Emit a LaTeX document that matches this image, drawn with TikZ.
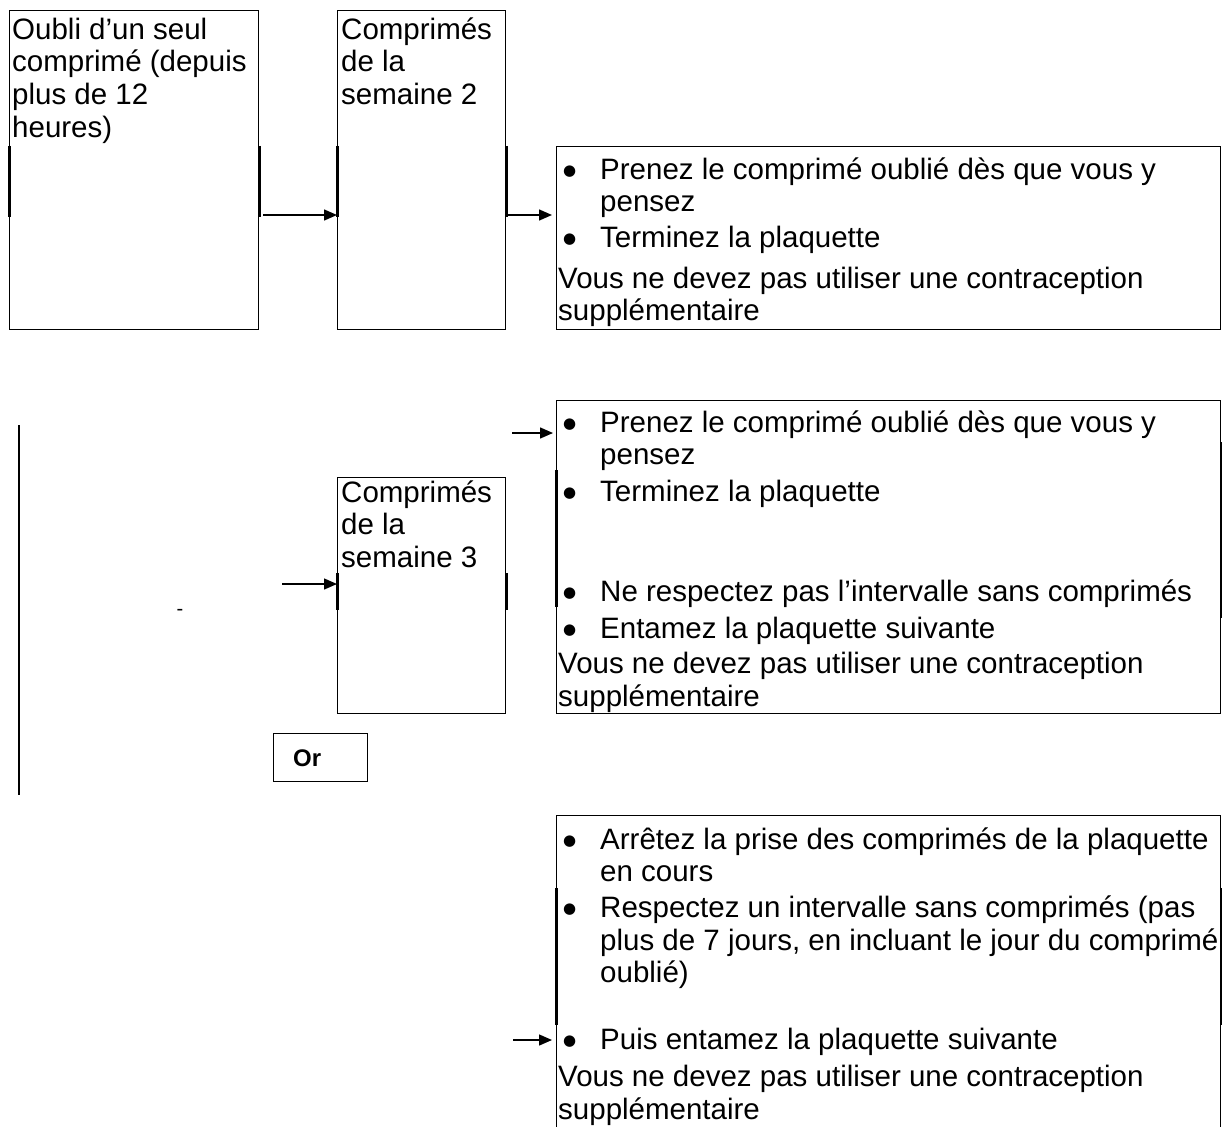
\documentclass[tikz,border=0pt]{standalone}
\usepackage{fontspec}
\setmainfont{Liberation Sans}
\newfontfamily\symbfont{DejaVu Sans}
\usetikzlibrary{calc,arrows.meta}
\newlength{\retrait}\setlength{\retrait}{42pt}
\newcommand{\puce}{\makebox[\retrait][l]{\hspace{5pt}\raisebox{4pt}{\symbfont\fontsize{15}{15}\selectfont ●}}}
\newcommand{\suite}{\hspace*{\retrait}}
\tikzset{
	cadre/.style={draw, line width=1.4pt, anchor=north west, inner sep=0pt},
	texte/.style={anchor=north west, inner sep=0pt, align=left, font=\fontsize{29.5}{32.7}\selectfont},
	fleche/.style={line width=1.4pt, -{Triangle[length=13pt,width=11pt]}},
	epais/.style={line width=3pt},
}
\begin{document}
\begin{tikzpicture}[x=1pt, y=-1pt]
			%%%%% START %%%%%
			\useasboundingbox (0,0) rectangle (1222,1126);
			\clip (0,0) rectangle (1222,1126);
			
			\node[cadre, minimum width=249pt, minimum height=319pt] (boxA) at (9,10) {};
			\node[texte] (txtA) at (12,16) {\strut Oubli d’un seul\\comprimé (depuis\\plus de 12\\heures)};
			
			\node[cadre, minimum width=168pt, minimum height=319pt] (boxB) at (337,10) {};
			\node[texte] (txtB) at (341,16) {\strut Comprimés\\de la\\semaine 2};
			
			\node[cadre, minimum width=664pt, minimum height=183pt] (boxC) at (556,146) {};
			\node[texte] (txtC) at (558,156) {\strut\puce Prenez le comprimé oublié dès que vous y\\
				\suite pensez\\[3pt]
				\puce Terminez la plaquette\\[8pt]
				Vous ne devez pas utiliser une contraception\\
				supplémentaire};
			
			\draw[epais] ($(boxA.north west)+(0,136)$) -- ++(0,71);
			\draw[epais] ($(boxA.north east)+(0,136)$) -- ++(0,71);
			\draw[epais] ($(boxB.north west)+(0,136)$) -- ++(0,71);
			\draw[epais] ($(boxB.north east)+(0,136)$) -- ++(0,71);
			
			\coordinate (niveauAB) at (0,215);
			\draw[fleche, shorten <=4pt] (boxA.east |- niveauAB) -- (boxB.west |- niveauAB);
			\draw[fleche, shorten >=4pt] (boxB.east |- niveauAB) -- (boxC.west |- niveauAB);
			
			\draw[line width=1.4pt] (19,425) -- (19,795);
			\node[inner sep=0pt, font=\fontsize{20}{24}\selectfont] (tiret) at (180,612) {-};
			
			\node[cadre, minimum width=168pt, minimum height=236pt] (boxD) at (337,477) {};
			\node[texte] (txtD) at (341,479) {\strut Comprimés\\de la\\semaine 3};
			
			\node[cadre, minimum width=664pt, minimum height=313pt] (boxE) at (556,400) {};
			\node[texte] (txtE) at (558,409) {\strut\puce Prenez le comprimé oublié dès que vous y\\
				\suite pensez\\[4pt]
				\puce Terminez la plaquette\\[67pt]
				\puce Ne respectez pas l’intervalle sans comprimés\\[5pt]
				\puce Entamez la plaquette suivante\\[2pt]
				Vous ne devez pas utiliser une contraception\\
				supplémentaire};
			
			\draw[epais] ($(boxD.north west)+(0,96)$) -- ++(0,37);
			\draw[epais] ($(boxD.north east)+(0,96)$) -- ++(0,37);
			\draw[epais] ($(boxE.north west)+(0,70)$) -- ++(0,137);
			\draw[epais] ($(boxE.north east)+(0,42)$) -- ++(0,176);
			
			\coordinate (departD) at (282,584);
			\draw[fleche] (departD) -- (boxD.west |- departD);
			\coordinate (departE) at (512,433);
			\draw[fleche, shorten >=3pt] (departE) -- (boxE.west |- departE);
			
			\node[cadre, minimum width=94pt, minimum height=48pt] (boxOr) at (273,733) {};
			\node[anchor=base west, inner sep=0pt, font=\fontsize{24}{28}\selectfont\bfseries] (txtOr) at (293,766) {Or};
			
			\node[cadre, minimum width=664pt, minimum height=320pt] (boxF) at (556,815) {};
			\node[texte] (txtF) at (558,826) {\strut\puce Arrêtez la prise des comprimés de la plaquette\\
				\suite en cours\\[3pt]
				\puce Respectez un intervalle sans comprimés (pas\\
				\suite plus de 7 jours, en incluant le jour du comprimé\\
				\suite oublié)\\[34pt]
				\puce Puis entamez la plaquette suivante\\[4pt]
				Vous ne devez pas utiliser une contraception\\
				supplémentaire};
			
			\draw[epais] ($(boxF.north west)+(0,73)$) -- ++(0,137);
			\draw[epais] ($(boxF.north east)+(0,73)$) -- ++(0,137);
			
			\coordinate (departF) at (513,1040);
			\draw[fleche, shorten >=4pt] (departF) -- (boxF.west |- departF);
			%%%%% END %%%%%
\end{tikzpicture}
\end{document}
